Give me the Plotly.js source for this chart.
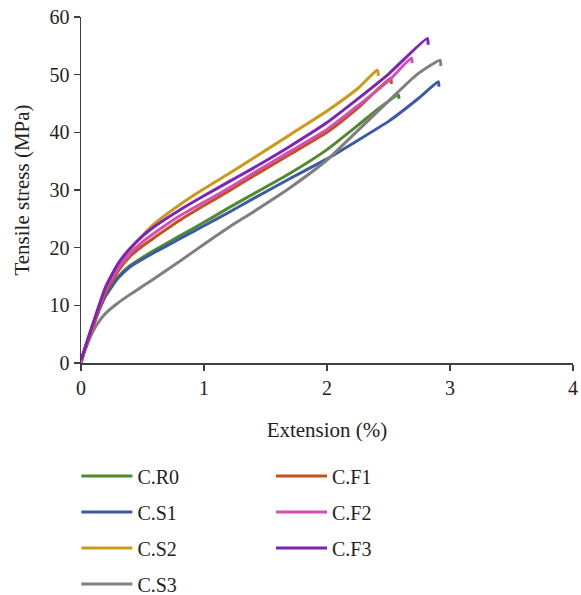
<!DOCTYPE html>
<html>
<head>
<meta charset="utf-8">
<script src="https://cdn.plot.ly/plotly-3.0.1.min.js"></script>
<style>html,body{margin:0;padding:0;background:#fff;}#chart{width:581px;height:595px;}</style>
</head>
<body>
<div id="chart"></div>
<script>
// Series names and colours
const seriesNames = ["C.R0", "C.S1", "C.S2", "C.S3", "C.F1", "C.F2", "C.F3"];
const seriesColors = ["#4f8a2e", "#3b5ba5", "#cc9a1a", "#7f7f7f", "#c5501c", "#d44fb3", "#7f23b5"];

// Extension (%) / Tensile stress (MPa) values
const xR0 = [0, 0.02, 0.05, 0.1, 0.15, 0.2, 0.3, 0.4, 0.5, 0.6, 0.8, 1.0, 1.2, 1.4, 1.7, 2.0, 2.25, 2.4, 2.58, 2.585];
const yR0 = [0, 1.6, 3.4, 6.5, 9.4, 11.8, 14.9, 16.9, 18.3, 19.6, 22.0, 24.4, 26.9, 29.3, 32.9, 37.0, 41.2, 43.8, 46.5, 45.8];

const xS1 = [0, 0.02, 0.05, 0.1, 0.15, 0.2, 0.3, 0.4, 0.5, 0.6, 0.8, 1.0, 1.2, 1.4, 1.7, 2.0, 2.25, 2.5, 2.75, 2.905, 2.91];
const yS1 = [0, 1.6, 3.4, 6.5, 9.3, 11.6, 14.7, 16.7, 18.0, 19.2, 21.5, 23.8, 26.1, 28.5, 32.0, 35.4, 38.6, 41.9, 46.0, 48.8, 47.9];

const xS2 = [0, 0.02, 0.05, 0.1, 0.15, 0.2, 0.3, 0.4, 0.5, 0.6, 0.8, 1.0, 1.2, 1.4, 1.7, 2.0, 2.25, 2.41, 2.418];
const yS2 = [0, 1.8, 3.7, 6.9, 10.0, 12.9, 16.9, 19.7, 22.1, 24.2, 27.4, 30.2, 32.8, 35.5, 39.6, 43.7, 47.6, 50.8, 49.8];

const xS3 = [0, 0.02, 0.05, 0.1, 0.15, 0.2, 0.3, 0.4, 0.5, 0.6, 0.8, 1.0, 1.2, 1.4, 1.7, 2.0, 2.25, 2.5, 2.73, 2.92, 2.925];
const yS3 = [0, 1.4, 3.2, 5.6, 7.3, 8.6, 10.4, 11.9, 13.3, 14.7, 17.6, 20.6, 23.5, 26.2, 30.4, 35.2, 40.3, 45.4, 50.0, 52.5, 51.5];

const xF1 = [0, 0.02, 0.05, 0.1, 0.15, 0.2, 0.3, 0.4, 0.5, 0.6, 0.8, 1.0, 1.2, 1.4, 1.7, 2.0, 2.25, 2.518, 2.523];
const yF1 = [0, 1.6, 3.4, 6.5, 9.5, 12.3, 15.9, 18.5, 20.3, 21.8, 24.7, 27.3, 29.8, 32.4, 36.2, 40.0, 44.2, 49.4, 48.4];

const xF2 = [0, 0.02, 0.05, 0.1, 0.15, 0.2, 0.3, 0.4, 0.5, 0.6, 0.8, 1.0, 1.2, 1.4, 1.7, 2.0, 2.25, 2.5, 2.686, 2.692];
const yF2 = [0, 1.7, 3.6, 6.8, 9.9, 12.8, 16.4, 19.0, 21.0, 22.6, 25.5, 27.9, 30.3, 32.9, 36.7, 40.5, 44.6, 48.9, 52.9, 52.0];

const xF3 = [0, 0.02, 0.05, 0.1, 0.15, 0.2, 0.3, 0.4, 0.5, 0.6, 0.8, 1.0, 1.2, 1.4, 1.7, 2.0, 2.25, 2.5, 2.816, 2.822];
const yF3 = [0.5, 1.8, 3.8, 7.0, 10.2, 13.2, 17.2, 19.9, 22.0, 23.7, 26.5, 29.0, 31.4, 33.8, 37.6, 41.7, 45.8, 50.1, 56.3, 55.2];

const xTicks = [0, 1, 2, 3, 4];
const yTicks = [0, 10, 20, 30, 40, 50, 60];

const xs = [xR0, xS1, xS2, xS3, xF1, xF2, xF3];
const ys = [yR0, yS1, yS2, yS3, yF1, yF2, yF3];
const legendOf = ["legend", "legend", "legend", "legend", "legend2", "legend2", "legend2"];

const font = "Liberation Serif, Times New Roman, serif";
const txt = "#231f20";

const traces = seriesNames.map((n, i) => ({
  type: "scatter", mode: "lines", name: n,
  x: xs[i], y: ys[i],
  line: {color: seriesColors[i], width: 3, shape: "spline", smoothing: 0.5},
  legend: legendOf[i], legendgroup: n
}));

const axisCommon = {
  showgrid: false, zeroline: false, showline: true,
  linecolor: "#404040", linewidth: 1.5,
  ticks: "outside", ticklen: 6, tickwidth: 1.5, tickcolor: "#404040",
  tickfont: {family: font, size: 20, color: txt}
};

const legendCommon = {
  xanchor: "left", yanchor: "top",
  orientation: "v", traceorder: "grouped", tracegroupgap: 7, itemwidth: 51,
  font: {family: font, size: 20, color: txt}, bgcolor: "rgba(0,0,0,0)", borderwidth: 0
};

const layout = {
  width: 581, height: 595,
  margin: {l: 81, r: 8, t: 17, b: 232, autoexpand: false},
  paper_bgcolor: "#fff", plot_bgcolor: "#fff",
  font: {family: font, size: 20, color: txt},
  xaxis: Object.assign({}, axisCommon, {
    range: [0, 4], tickvals: xTicks, ticktext: xTicks.map(String),
    title: {text: "Extension (%)", font: {family: font, size: 21, color: txt}}
  }),
  yaxis: Object.assign({}, axisCommon, {
    range: [0, 60], tickvals: yTicks, ticktext: yTicks.map(String),
    title: {text: "Tensile stress (MPa)", font: {family: font, size: 21, color: txt}}
  }),
  showlegend: true,
  legend: Object.assign({}, legendCommon, {x: -0.0094, y: -0.270}),
  legend2: Object.assign({}, legendCommon, {x: 0.3862, y: -0.270})
};

Plotly.newPlot("chart", traces, layout, {displayModeBar: false, staticPlot: true});
</script>
</body>
</html>
